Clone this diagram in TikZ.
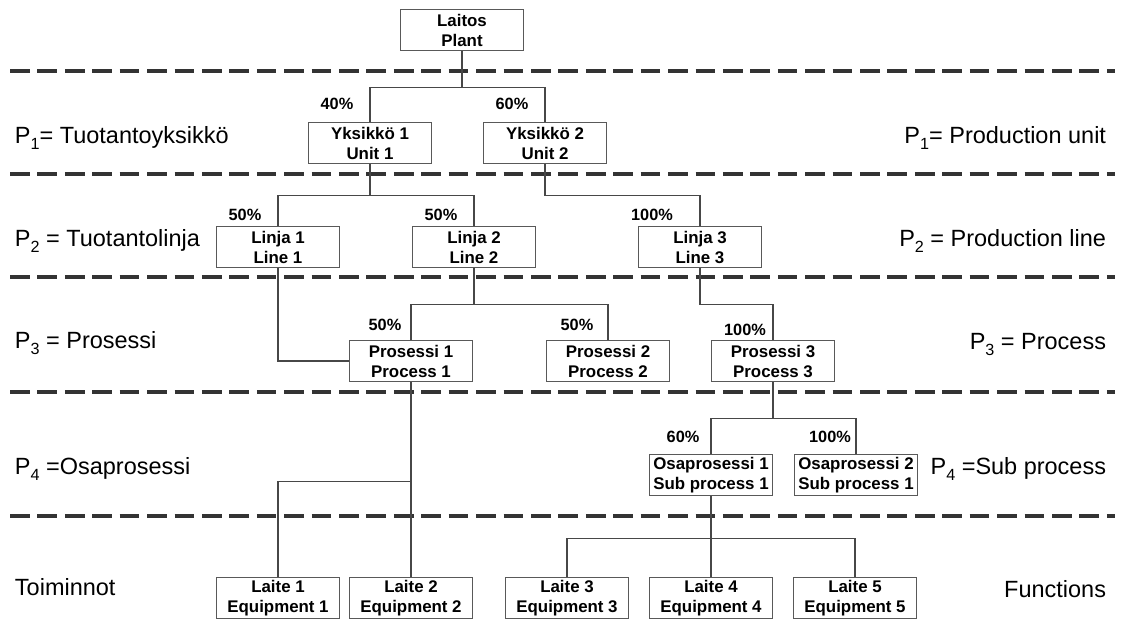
\documentclass[tikz,border=0pt]{standalone}
\usepackage{fontspec}
\setmainfont{Liberation Sans}
\usepackage{tikz}

\newcommand{\lvsub}[1]{\raisebox{-4.3pt}{\fontsize{11.5}{12}\selectfont #1}}

\begin{document}
\begin{tikzpicture}[
  x=0.025cm, y=-0.025cm,
  every node/.style={font=\fontsize{12}{14.2}\selectfont},
  unit/.style={rectangle, draw=black!65, line width=1pt, minimum width=3.08cm,
               minimum height=1.03cm, inner sep=0pt, align=center,
               font=\fontsize{12}{14.2}\selectfont\bfseries},
  pct/.style={font=\fontsize{11.6}{13}\selectfont\bfseries},
  level/.style={font=\fontsize{16.7}{20}\selectfont},
  link/.style={draw=black!72, line width=0.9pt},
  sep/.style={draw=black!80, line width=2.2pt, dash pattern=on 14pt off 5.5pt}
]
  \useasboundingbox (0,0) rectangle (1127,621);

  % level separators
  \foreach \y in {71,174,277,392,516}
    \draw[sep] (10,\y) -- (1115,\y);

  \node[unit] (plant) at (462,30)  {Laitos\\Plant};
  \node[unit] (u1)    at (370,143) {Yksikkö 1\\Unit 1};
  \node[unit] (u2)    at (545,143) {Yksikkö 2\\Unit 2};
  \node[unit] (l1)    at (278,247) {Linja 1\\Line 1};
  \node[unit] (l2)    at (474,247) {Linja 2\\Line 2};
  \node[unit] (l3)    at (700,247) {Linja 3\\Line 3};
  \node[unit] (p1)    at (411,361) {Prosessi 1\\Process 1};
  \node[unit] (p2)    at (608,361) {Prosessi 2\\Process 2};
  \node[unit] (p3)    at (773,361) {Prosessi 3\\Process 3};
  \node[unit] (s1)    at (711,475) {Osaprosessi 1\\Sub process 1};
  \node[unit] (s2)    at (856,475) {Osaprosessi 2\\Sub process 1};
  \node[unit] (e1)    at (278,598) {Laite 1\\Equipment 1};
  \node[unit] (e2)    at (411,598) {Laite 2\\Equipment 2};
  \node[unit] (e3)    at (567,598) {Laite 3\\Equipment 3};
  \node[unit] (e4)    at (711,598) {Laite 4\\Equipment 4};
  \node[unit] (e5)    at (855,598) {Laite 5\\Equipment 5};

  % shares
  \node[pct] (pc1) at (337,104) {40\%};
  \node[pct] (pc2) at (512,104) {60\%};
  \node[pct] (pc3) at (245,215) {50\%};
  \node[pct] (pc4) at (441,215) {50\%};
  \node[pct] (pc5) at (652,215) {100\%};
  \node[pct] (pc6) at (385,325) {50\%};
  \node[pct] (pc7) at (577,325) {50\%};
  \node[pct] (pc8) at (745,330) {100\%};
  \node[pct] (pc9) at (683,437) {60\%};
  \node[pct] (pc10) at (830,437) {100\%};

  % level names
  \node[level, anchor=base west] (lp1) at (10,143) {P\lvsub{1}= Tuotantoyksikkö};
  \node[level, anchor=base west] (lp2) at (10,246) {P\lvsub{2} = Tuotantolinja};
  \node[level, anchor=base west] (lp3) at (10,348) {P\lvsub{3} = Prosessi};
  \node[level, anchor=base west] (lp4) at (10,474) {P\lvsub{4} =Osaprosessi};
  \node[level, anchor=base west] (lp5) at (10,595) {Toiminnot};
  \node[level, anchor=base east] (rp1) at (1111,143) {P\lvsub{1}= Production unit};
  \node[level, anchor=base east] (rp2) at (1111,246) {P\lvsub{2} = Production line};
  \node[level, anchor=base east] (rp3) at (1111,349) {P\lvsub{3} = Process};
  \node[level, anchor=base east] (rp4) at (1111,474) {P\lvsub{4} =Sub process};
  \node[level, anchor=base east] (rp5) at (1111,597) {Functions};

  \draw[link] (plant.south) -- ++(0,36) -| (u1.north);
  \draw[link] (plant.south) -- ++(0,36) -| (u2.north);
  \draw[link] (u1.south) -- ++(0,31) -| (l1.north);
  \draw[link] (u1.south) -- ++(0,31) -| (l2.north);
  \draw[link] (u2.south) -- ++(0,31) -| (l3.north);
  \draw[link] (l1.south) |- (p1.west);
  \draw[link] (l2.south) -- ++(0,36) -| (p1.north);
  \draw[link] (l2.south) -- ++(0,36) -| (p2.north);
  \draw[link] (l3.south) -- ++(0,36) -| (p3.north);
  \draw[link] (p3.south) -- ++(0,36) -| (s1.north);
  \draw[link] (p3.south) -- ++(0,36) -| (s2.north);
  \draw[link] (p1.south) -- (e2.north);
  \draw[link] (p1.south) -- ++(0,99) -| (e1.north);
  \draw[link] (s1.south) -- ++(0,42) -| (e3.north);
  \draw[link] (s1.south) -- (e4.north);
  \draw[link] (s1.south) -- ++(0,42) -| (e5.north);
\end{tikzpicture}
\end{document}
